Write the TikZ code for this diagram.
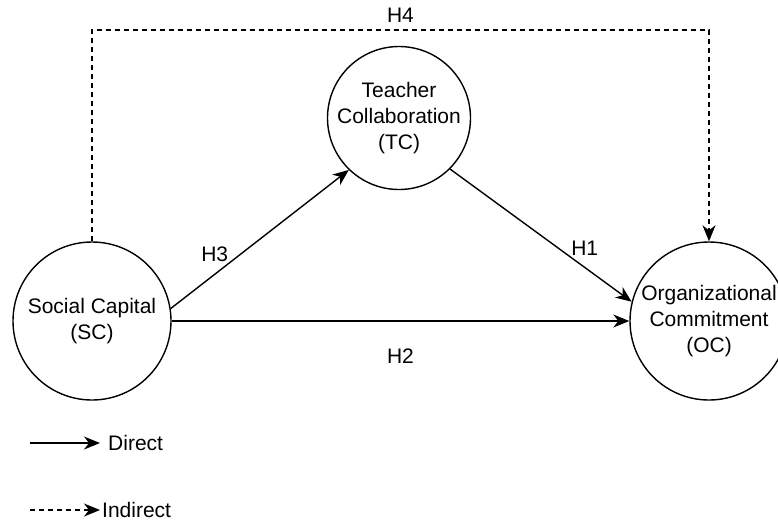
\documentclass[tikz,border=0pt]{standalone}
\usepackage{fontspec}
\setmainfont{Liberation Sans}
\usetikzlibrary{positioning,arrows.meta}

\begin{document}
\begin{tikzpicture}[
    x=1pt, y=-1pt,
    font={\fontsize{21}{26}\selectfont},
    construct/.style={circle,draw,line width=1.4pt,inner sep=0pt,align=center,minimum size=158pt},
    hlabel/.style={inner sep=0pt},
    legtext/.style={inner sep=0pt,inner xsep=8pt},
    direct/.style={-{Stealth[length=16pt,width=13pt,inset=5pt]},line width=1.4pt},
    indirect/.style={direct,dash pattern=on 5pt off 4pt},
]
    \useasboundingbox (0,0) rectangle (778,523);

    % Constructs
    \node[construct] (sc) at (92,321) {Social Capital\\(SC)};
    \node[construct, minimum size=143pt] (tc) at (399,118) {Teacher\\Collaboration\\(TC)};
    \node[construct] (oc) at (709,321) {Organizational\\Commitment\\(OC)};
    \coordinate (hfour) at (400,30);

    % Hypotheses
    \draw[direct] (sc.9) -- (tc.226) node[hlabel, pos=0.33, above left=1pt] (lh3) {H3};
    \draw[direct] (tc.-45) -- (oc.166) node[hlabel, pos=0.66, above right=1pt] (lh1) {H1};
    \draw[direct] (sc.east) -- (oc.west) node[hlabel, midway, below=27pt] (lh2) {H2};
    \draw[indirect] (sc.north) -- (sc.north |- hfour) -| (oc.north) node[hlabel, pos=0.25, above=7pt] (lh4) {H4};

    % Legend
    \coordinate (lda) at (30,443);
    \node[legtext, right=70pt of lda] (ldirect) {Direct};
    \draw[direct] (lda) -- (ldirect);
    \coordinate (lia) at (30,510);
    \node[legtext, inner xsep=2pt, right=70pt of lia] (lindirect) {Indirect};
    \draw[indirect] (lia) -- (lindirect);

\end{tikzpicture}
\end{document}
